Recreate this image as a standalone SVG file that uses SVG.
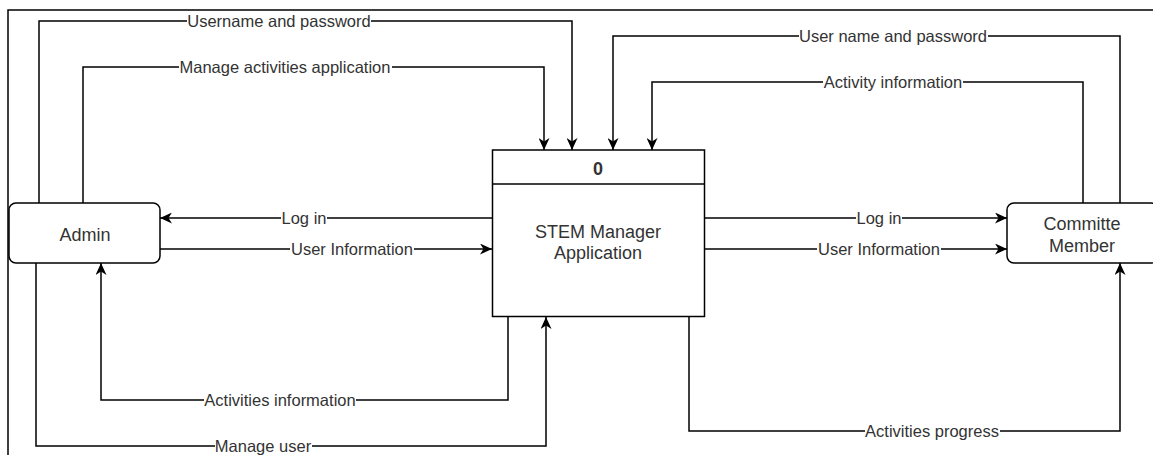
<svg xmlns="http://www.w3.org/2000/svg" width="1153" height="455" viewBox="0 0 1153 455">
  <style>
    .node { fill: #fff; stroke: #000; stroke-width: 1.5; }
    .ntext { font-family: "Liberation Sans", Arial, sans-serif; font-size: 18px; fill: #333; text-anchor: middle; }
    .edge { fill: none; stroke: #000; stroke-width: 1.5; marker-end: url(#arr); }
    .lbg { fill: #fff; }
    .ltext { font-family: "Liberation Sans", Arial, sans-serif; font-size: 16.5px; fill: #333; text-anchor: middle; }
  </style>
  <defs>
    <marker id="arr" viewBox="0 0 12 11" refX="12" refY="5.5" markerWidth="12" markerHeight="11" orient="auto" markerUnits="userSpaceOnUse">
      <path d="M0,0 L12,5.5 L0,11 L3.5,5.5 Z" fill="#000"/>
    </marker>
  </defs>
  <rect width="1153" height="455" fill="#fff"/>
  <g id="frame" stroke="#000" stroke-width="1.5" fill="none">
    <path d="M8,455 V10 H1153"/>
  </g>

  <g id="connectors">
    <path class="edge" d="M39,203 V21 H572 V150"/>
    <path class="edge" d="M83,203 V67 H544 V150"/>
    <path class="edge" d="M1120,203 V36 H613 V150"/>
    <path class="edge" d="M1083,203 V82 H652 V150"/>
    <path class="edge" d="M492,218 H160"/>
    <path class="edge" d="M160,249 H492"/>
    <path class="edge" d="M705,218 H1007"/>
    <path class="edge" d="M705,249 H1007"/>
    <path class="edge" d="M508,317 V400 H101 V263"/>
    <path class="edge" d="M36,263 V446 H546 V317"/>
    <path class="edge" d="M689,317 V431 H1120 V263"/>

    <rect class="lbg" x="187" y="13" width="184" height="16"/>
    <text class="ltext" x="279" y="27">Username and password</text>
    <rect class="lbg" x="179" y="59" width="213" height="16"/>
    <text class="ltext" x="285" y="73">Manage activities application</text>
    <rect class="lbg" x="799" y="28" width="189" height="16"/>
    <text class="ltext" x="893" y="42">User name and password</text>
    <rect class="lbg" x="823" y="74" width="140" height="16"/>
    <text class="ltext" x="893" y="88">Activity information</text>
    <rect class="lbg" x="281" y="210" width="46" height="16"/>
    <text class="ltext" x="304" y="224">Log in</text>
    <rect class="lbg" x="290" y="241" width="124" height="16"/>
    <text class="ltext" x="352" y="255">User Information</text>
    <rect class="lbg" x="856" y="210" width="46" height="16"/>
    <text class="ltext" x="879" y="224">Log in</text>
    <rect class="lbg" x="817" y="241" width="124" height="16"/>
    <text class="ltext" x="879" y="255">User Information</text>
    <rect class="lbg" x="204" y="392" width="152" height="16"/>
    <text class="ltext" x="280" y="406">Activities information</text>
    <rect class="lbg" x="215" y="438" width="97" height="16"/>
    <text class="ltext" x="263" y="452">Manage user</text>
    <rect class="lbg" x="865" y="423" width="135" height="16"/>
    <text class="ltext" x="932" y="437">Activities progress</text>
  </g>

  <g id="admin">
    <rect class="node" x="9" y="203" width="151" height="60" rx="7"/>
    <text class="ntext" x="85" y="241">Admin</text>
  </g>

  <g id="process">
    <rect class="node" x="492.5" y="150" width="212" height="166.5"/>
    <line x1="492.5" y1="184" x2="704.5" y2="184" stroke="#000" stroke-width="1.5"/>
    <text class="ntext" x="598" y="175" font-weight="bold">0</text>
    <text class="ntext" x="598" y="238">STEM Manager</text>
    <text class="ntext" x="598" y="259">Application</text>
  </g>

  <g id="committee">
    <rect class="node" x="1007" y="203" width="151" height="60" rx="7"/>
    <text class="ntext" x="1082" y="230">Committe</text>
    <text class="ntext" x="1082" y="252">Member</text>
  </g>
</svg>
